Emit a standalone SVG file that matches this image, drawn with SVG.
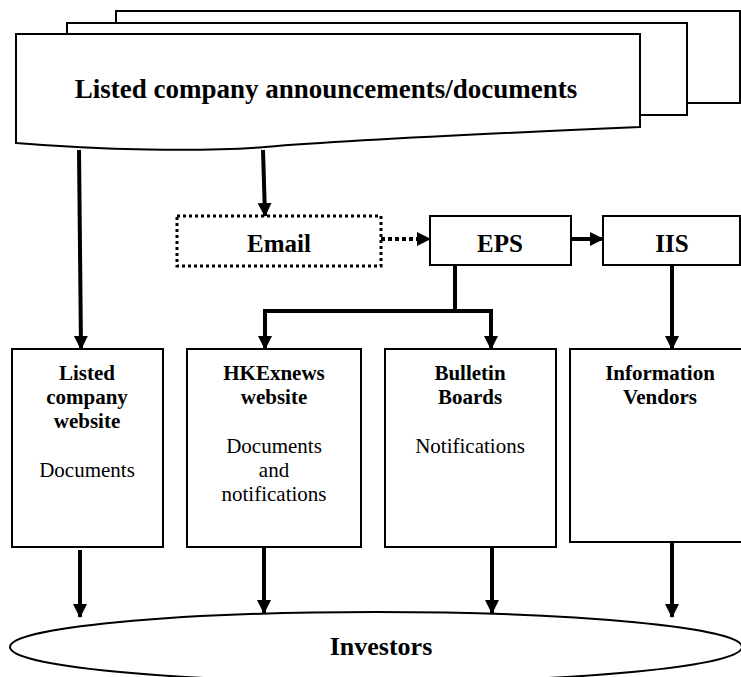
<svg xmlns="http://www.w3.org/2000/svg" width="741" height="677" viewBox="0 0 741 677">
<style>
.shape{fill:#fff;stroke:#000;stroke-width:2}
.b{font-family:"Liberation Serif","Times New Roman",serif;font-weight:bold;text-anchor:middle;fill:#000}
.r{font-family:"Liberation Serif","Times New Roman",serif;text-anchor:middle;fill:#000}
.line{fill:none;stroke:#000;stroke-width:4}
</style>
<defs>
<marker id="ah" markerWidth="14" markerHeight="15" refX="13" refY="7" orient="auto" markerUnits="userSpaceOnUse"><path d="M0,0 L14,7 L0,14 Z" fill="#000"/></marker>
</defs>
<rect width="741" height="677" fill="#fff"/>
<g id="documents">
<rect class="shape" x="116" y="11" width="624" height="92"/>
<rect class="shape" x="67" y="23" width="620" height="92"/>
<path class="shape" d="M16,34 L640,34 L640,127 C 500,133 350,140 265,147 C 200,152 100,150 16,143 Z"/>
<text class="b" x="326" y="98" font-size="27">Listed company announcements/documents</text>
</g>
<g id="email">
<rect x="177" y="216" width="204" height="50" fill="#fff" stroke="#000" stroke-width="3" stroke-dasharray="3,3"/>
<text class="b" x="279" y="252" font-size="25">Email</text>
</g>
<g id="eps">
<rect class="shape" x="430" y="216" width="141" height="49"/>
<text class="b" x="500" y="252" font-size="25">EPS</text>
</g>
<g id="iis">
<rect class="shape" x="603" y="216" width="137" height="49"/>
<text class="b" x="672" y="252" font-size="25">IIS</text>
</g>
<g id="listed-company-website">
<rect class="shape" x="12" y="349" width="151" height="198"/>
<text class="b" x="87" y="380" font-size="21">Listed</text>
<text class="b" x="87" y="404" font-size="21">company</text>
<text class="b" x="87" y="428" font-size="21">website</text>
<text class="r" x="87" y="477" font-size="21">Documents</text>
</g>
<g id="hkexnews-website">
<rect class="shape" x="187" y="349" width="174" height="198"/>
<text class="b" x="274" y="380" font-size="21">HKExnews</text>
<text class="b" x="274" y="404" font-size="21">website</text>
<text class="r" x="274" y="453" font-size="21">Documents</text>
<text class="r" x="274" y="477" font-size="21">and</text>
<text class="r" x="274" y="501" font-size="21">notifications</text>
</g>
<g id="bulletin-boards">
<rect class="shape" x="385" y="349" width="171" height="198"/>
<text class="b" x="470" y="380" font-size="21">Bulletin</text>
<text class="b" x="470" y="404" font-size="21">Boards</text>
<text class="r" x="470" y="453" font-size="21">Notifications</text>
</g>
<g id="information-vendors">
<rect class="shape" x="570" y="349" width="182" height="193"/>
<text class="b" x="660" y="380" font-size="21">Information</text>
<text class="b" x="660" y="404" font-size="21">Vendors</text>
</g>
<g id="investors">
<ellipse class="shape" cx="376" cy="647" rx="366" ry="35"/>
<text class="b" x="381" y="655" font-size="26">Investors</text>
</g>
<g id="connectors">
<line class="line" x1="79" y1="150" x2="81" y2="349" marker-end="url(#ah)"/>
<line class="line" x1="263" y1="150" x2="265" y2="216" marker-end="url(#ah)"/>
<line class="line" x1="381" y1="239" x2="430" y2="239" stroke-dasharray="4,3" marker-end="url(#ah)"/>
<line class="line" x1="571" y1="239" x2="603" y2="239" marker-end="url(#ah)"/>
<polyline class="line" points="455,265 455,311"/>
<polyline class="line" points="265,349 265,311 491,311 491,349" marker-end="url(#ah)"/>
<line class="line" x1="265" y1="313" x2="265" y2="349" marker-end="url(#ah)"/>
<line class="line" x1="672" y1="265" x2="672" y2="349" marker-end="url(#ah)"/>
<line class="line" x1="80" y1="550" x2="80" y2="617" marker-end="url(#ah)"/>
<line class="line" x1="264" y1="547" x2="264" y2="613" marker-end="url(#ah)"/>
<line class="line" x1="492" y1="547" x2="492" y2="613" marker-end="url(#ah)"/>
<line class="line" x1="672" y1="542" x2="672" y2="617" marker-end="url(#ah)"/>
</g>
</svg>
